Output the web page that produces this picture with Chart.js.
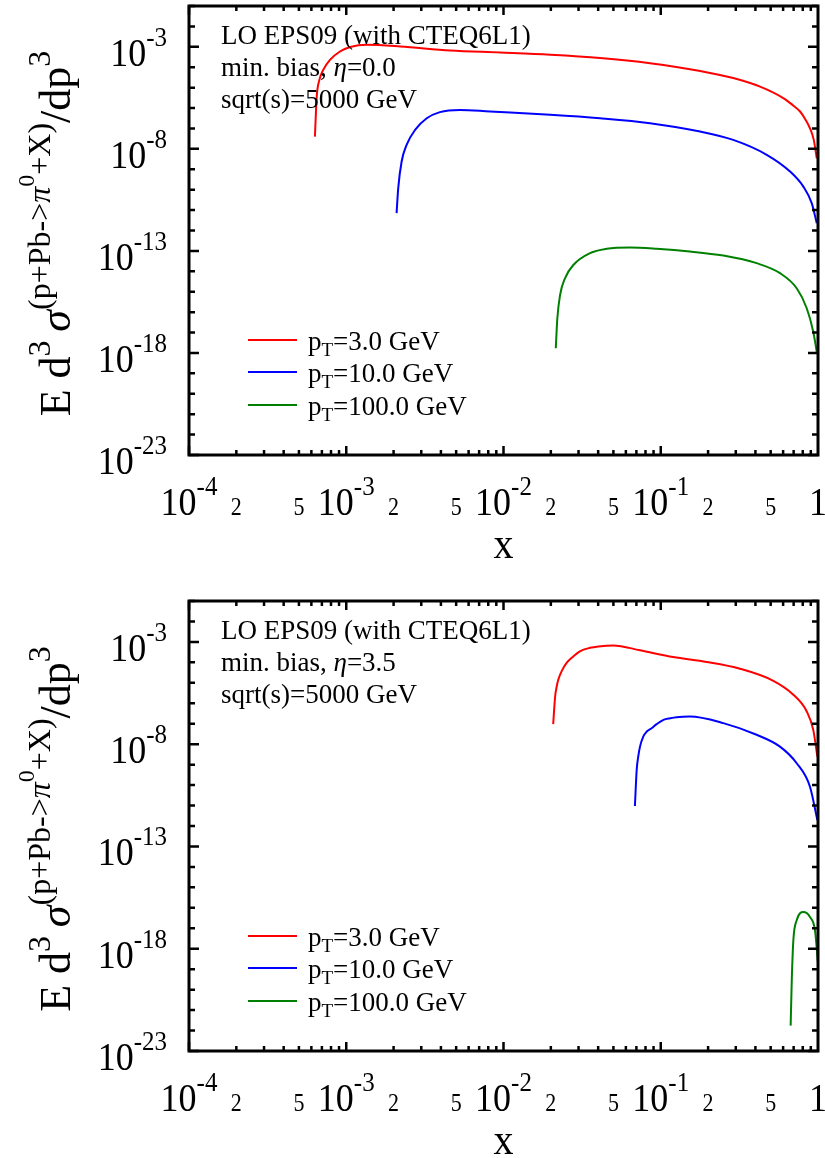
<!DOCTYPE html>
<html>
<head>
<meta charset="utf-8">
<script src="https://cdn.jsdelivr.net/npm/chart.js@4/dist/chart.umd.min.js"></script>
<style>
  body { margin: 0; background: #fff; }
  canvas { display: block; }
</style>
</head>
<body>
<canvas id="panel-eta0" width="825" height="579"></canvas>
<canvas id="panel-eta35" width="825" height="579"></canvas>
<script>
// tick labels, "^" starts an exponent
const xLabelValues = [1e-4, 2e-4, 5e-4, 1e-3, 2e-3, 5e-3, 1e-2, 2e-2, 5e-2, 1e-1, 2e-1, 5e-1, 1];
const xLabelTexts = ["10^-4", "2", "5", "10^-3", "2", "5", "10^-2", "2", "5", "10^-1", "2", "5", "1"];
const yLabelValues = [1e-3, 1e-8, 1e-13, 1e-18, 1e-23];
const yLabelTexts = ["10^-3", "10^-8", "10^-13", "10^-18", "10^-23"];

const seriesLabels = ["=3.0 GeV", "=10.0 GeV", "=100.0 GeV"];
const seriesColors = ["#ff0000", "#0000ff", "#008000"];

// eta = 0.0
const x3Eta0 = [6.32e-4, 6.49e-4, 6.75e-4, 7.14e-4, 7.88e-4, 9.12e-4, 1.06e-3, 1.35e-3, 2.20e-3, 4.57e-3, 9.5e-3, 1.98e-2, 4.11e-2, 8.55e-2, 0.178, 0.289, 0.428, 0.601, 0.682, 0.769, 0.835, 0.889, 0.940, 0.982];
const y3Eta0 = [3.98e-8, 3.63e-6, 2.40e-5, 7.41e-5, 2.29e-4, 5.89e-4, 9.77e-4, 1.26e-3, 1.05e-3, 6.61e-4, 5.25e-4, 4.07e-4, 2.82e-4, 1.58e-4, 6.61e-5, 2.95e-5, 1.12e-5, 3.09e-6, 1.51e-6, 6.76e-7, 2.63e-7, 1.02e-7, 2.75e-8, 3.47e-9];
const x10Eta0 = [2.09e-3, 2.14e-3, 2.25e-3, 2.42e-3, 2.74e-3, 3.25e-3, 3.94e-3, 5.28e-3, 8.20e-3, 1.98e-2, 4.11e-2, 8.55e-2, 0.178, 0.289, 0.472, 0.664, 0.807, 0.912, 0.982];
const y10Eta0 = [7.08e-12, 1.17e-10, 2.40e-9, 1.58e-8, 8.51e-8, 3.16e-7, 6.31e-7, 8.13e-7, 6.76e-7, 4.68e-7, 3.16e-7, 1.82e-7, 7.08e-8, 2.75e-8, 5.13e-9, 7.76e-10, 1.41e-10, 2.19e-11, 2.29e-12];
const x100Eta0 = [2.15e-2, 2.20e-2, 2.29e-2, 2.46e-2, 2.78e-2, 3.55e-2, 4.53e-2, 6.37e-2, 9.42e-2, 0.153, 0.250, 0.407, 0.573, 0.732, 0.848, 0.933, 0.982];
const y100Eta0 = [1.70e-18, 5.01e-17, 6.92e-16, 4.57e-15, 2.04e-14, 7.76e-14, 1.26e-13, 1.45e-13, 1.26e-13, 9.33e-14, 5.89e-14, 2.51e-14, 8.13e-15, 1.48e-15, 1.55e-16, 1.10e-17, 1.15e-18];

// eta = 3.5
const x3Eta35 = [2.07e-2, 2.13e-2, 2.18e-2, 2.23e-2, 2.34e-2, 2.52e-2, 2.78e-2, 3.06e-2, 3.55e-2, 4.01e-2, 4.99e-2, 7.38e-2, 0.120, 0.196, 0.319, 0.520, 0.697, 0.848, 0.933, 0.991];
const y3Eta35 = [9.55e-8, 2.14e-6, 6.61e-6, 1.41e-5, 3.63e-5, 9.33e-5, 1.95e-4, 3.47e-4, 5.13e-4, 6.03e-4, 6.76e-4, 3.89e-4, 1.82e-4, 1.05e-4, 4.90e-5, 1.26e-5, 2.63e-6, 3.98e-7, 5.01e-8, 2.45e-9];
const x10Eta35 = [6.85e-2, 7.03e-2, 7.19e-2, 7.38e-2, 7.74e-2, 8.15e-2, 8.75e-2, 9.42e-2, 0.104, 0.115, 0.126, 0.153, 0.250, 0.407, 0.573, 0.732, 0.889, 0.991];
const y10Eta35 = [9.55e-12, 5.50e-10, 2.45e-9, 7.59e-9, 2.34e-8, 4.17e-8, 6.03e-8, 9.55e-8, 1.55e-7, 1.86e-7, 2.09e-7, 2.24e-7, 1.07e-7, 2.88e-8, 7.59e-9, 1.17e-9, 8.32e-11, 1.95e-12];
const x100Eta35 = [0.670, 0.681, 0.697, 0.732, 0.807, 0.889, 0.957, 0.998];
const y100Eta35 = [1.74e-22, 2.82e-20, 2.57e-18, 2.45e-17, 6.17e-17, 3.55e-17, 7.94e-18, 2.19e-19];

const FONT = "'Liberation Serif', 'DejaVu Serif', serif";

// draws a run of text pieces with their own size / rise / italics,
// sy stretches the glyphs vertically around the baseline
function drawParts(ctx, parts, x, y, align, sy = 1) {
    const widths = parts.map(p => {
        ctx.font = (p.i ? "italic " : "") + p.s + "px " + FONT;
        return ctx.measureText(p.t).width;
    });
    const total = widths.reduce((a, b) => a + b, 0);
    let cur = align === "center" ? x - total / 2 : align === "right" ? x - total : x;
    ctx.save();
    ctx.translate(0, y);
    ctx.scale(1, sy);
    ctx.textAlign = "left";
    ctx.textBaseline = "alphabetic";
    parts.forEach((p, k) => {
        ctx.font = (p.i ? "italic " : "") + p.s + "px " + FONT;
        ctx.fillText(p.t, cur, -(p.r || 0));
        cur += widths[k];
    });
    ctx.restore();
}

function powerParts(text, size, supSize) {
    const [base, exp] = text.split("^");
    const parts = [{ t: base, s: size }];
    if (exp) parts.push({ t: exp, s: supSize, r: 18 });
    return parts;
}

const framePlugin = {
    id: "frame",
    afterDatasetsDraw(chart, args, opts) {
        const { ctx, chartArea: a, scales: { x, y } } = chart;
        ctx.save();
        ctx.fillStyle = "#000";
        ctx.strokeStyle = "#000";

        // ticks, pointing inward on all four sides
        ctx.lineWidth = 2.5;
        ctx.beginPath();
        for (let d = -4; d < 0; d++) {
            for (let m = 1; m < 10; m++) {
                const px = x.getPixelForValue(m * Math.pow(10, d));
                const len = m === 1 ? 9 : 5;
                ctx.moveTo(px, a.bottom); ctx.lineTo(px, a.bottom - len);
                ctx.moveTo(px, a.top); ctx.lineTo(px, a.top + len);
            }
        }
        for (let d = -23; d <= -1; d++) {
            const py = y.getPixelForValue(Math.pow(10, d));
            const len = (d + 23) % 5 === 0 ? 10 : 6;
            ctx.moveTo(a.left, py); ctx.lineTo(a.left + len, py);
            ctx.moveTo(a.right, py); ctx.lineTo(a.right - len, py);
        }
        ctx.stroke();

        ctx.lineWidth = 3;
        ctx.strokeRect(a.left, a.top, a.right - a.left, a.bottom - a.top);

        // tick labels
        xLabelValues.forEach((v, k) => {
            const px = x.getPixelForValue(v);
            const txt = xLabelTexts[k];
            const parts = txt.length === 1 && txt !== "1" ? [{ t: txt, s: 22 }] : powerParts(txt, 36, 25);
            drawParts(ctx, parts, px, a.bottom + 60, "center", 1.12);
        });
        yLabelValues.forEach((v, k) => {
            const py = y.getPixelForValue(v);
            drawParts(ctx, powerParts(yLabelTexts[k], 36, 25), a.left - 22, py + 19, "right", 1.12);
        });

        // axis titles
        drawParts(ctx, [{ t: "x", s: 40 }], (a.left + a.right) / 2, a.bottom + 103, "center", 1.1);
        ctx.save();
        ctx.translate(70, (a.top + a.bottom) / 2 + 3);
        ctx.rotate(-Math.PI / 2);
        drawParts(ctx, [
            { t: "E d", s: 44 }, { t: "3", s: 32, r: 20 },
            { t: "\u2009σ", s: 44, i: true },
            { t: "(p+Pb->", s: 32, r: 20 }, { t: "π", s: 32, r: 20, i: true },
            { t: "0", s: 24, r: 36 }, { t: "+X)", s: 32, r: 20 },
            { t: "/dp", s: 44 }, { t: "3", s: 32, r: 20 }
        ], 0, 0, "center");
        ctx.restore();

        // info text
        const tx = 221;
        drawParts(ctx, [{ t: "LO EPS09 (with CTEQ6L1)", s: 27 }], tx, a.top + 38, "left");
        drawParts(ctx, [{ t: "min. bias, ", s: 27 }, { t: "η", s: 27, i: true }, { t: opts.eta, s: 27 }], tx, a.top + 70, "left");
        drawParts(ctx, [{ t: "sqrt(s)=5000 GeV", s: 27 }], tx, a.top + 102, "left");

        // legend
        const offsets = [115, 83, 50];
        chart.data.datasets.forEach((ds, k) => {
            const ly = a.bottom - offsets[k];
            ctx.strokeStyle = ds.borderColor;
            ctx.lineWidth = 2;
            ctx.beginPath();
            ctx.moveTo(248, ly); ctx.lineTo(297, ly);
            ctx.stroke();
            ctx.fillStyle = "#000";
            drawParts(ctx, [{ t: "p", s: 27 }, { t: "T", s: 19, r: -6 }, { t: ds.label, s: 27 }], 308, ly + 10, "left");
        });
        ctx.restore();
    }
};

function toPoints(xs, ys) {
    return xs.map((v, k) => ({ x: v, y: ys[k] }));
}

function makePanel(canvasId, eta, padTop, padBottom, curves) {
    new Chart(document.getElementById(canvasId), {
        type: "line",
        data: {
            datasets: curves.map((c, k) => ({
                label: seriesLabels[k],
                data: toPoints(c[0], c[1]),
                borderColor: seriesColors[k],
                borderWidth: 2,
                pointRadius: 0,
                cubicInterpolationMode: "monotone",
                fill: false
            }))
        },
        options: {
            responsive: false,
            animation: false,
            devicePixelRatio: 1,
            layout: { padding: { left: 189, right: 7, top: padTop, bottom: padBottom } },
            scales: {
                x: { type: "logarithmic", min: 1e-4, max: 1, display: false },
                y: { type: "logarithmic", min: 1e-23, max: 1e-1, display: false }
            },
            plugins: {
                legend: { display: false },
                tooltip: { enabled: false },
                frame: { eta: eta }
            }
        },
        plugins: [framePlugin]
    });
}

makePanel("panel-eta0", "=0.0", 6, 124, [[x3Eta0, y3Eta0], [x10Eta0, y10Eta0], [x100Eta0, y100Eta0]]);
makePanel("panel-eta35", "=3.5", 22, 107, [[x3Eta35, y3Eta35], [x10Eta35, y10Eta35], [x100Eta35, y100Eta35]]);
</script>
</body>
</html>
